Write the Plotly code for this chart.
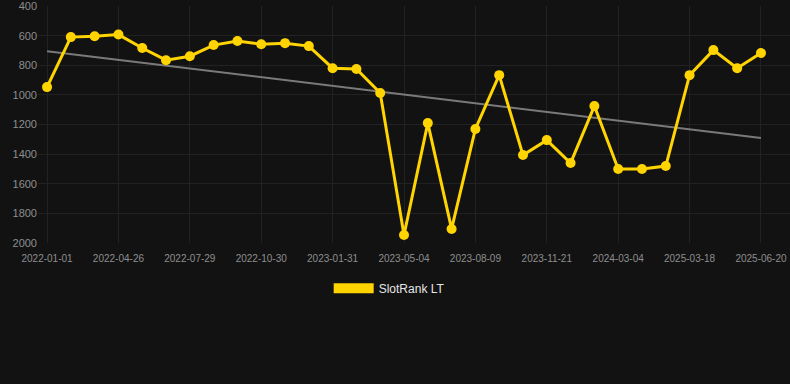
import plotly.graph_objects as go

dates = [
    "2022-01-01", "2022-02-08", "2022-03-18", "2022-04-26", "2022-05-27",
    "2022-06-28", "2022-07-29", "2022-08-29", "2022-09-29", "2022-10-30",
    "2022-11-30", "2022-12-31", "2023-01-31", "2023-03-03", "2023-04-03",
    "2023-05-04", "2023-06-05", "2023-07-07", "2023-08-09", "2023-09-11",
    "2023-10-16", "2023-11-21", "2023-12-26", "2024-01-30", "2024-03-04",
    "2024-07-15", "2024-11-12", "2025-03-18", "2025-04-18", "2025-05-19",
    "2025-06-20",
]
rank = [
    947, 609, 603, 592, 683, 765, 738, 663, 636, 657,
    650, 670, 819, 825, 987, 1946, 1190, 1905, 1230, 866,
    1406, 1305, 1460, 1075, 1500, 1500, 1480, 866, 697, 819,
    717,
]
trend_x = [dates[0], dates[-1]]
trend_y = [704, 1291]
tick_labels = dates[::3]
y_ticks = [400, 600, 800, 1000, 1200, 1400, 1600, 1800, 2000]

YELLOW = "#FFD400"
BG = "#121212"
GRID = "#222222"
TEXT = "#8e8e8e"

fig = go.Figure()
fig.add_trace(go.Scatter(
    x=trend_x, y=trend_y, mode="lines",
    line=dict(color="#7a7a7a", width=2), showlegend=False, hoverinfo="skip",
))
fig.add_trace(go.Scatter(
    x=dates, y=rank, mode="lines+markers",
    line=dict(color=YELLOW, width=3), marker=dict(color=YELLOW, size=10),
    showlegend=False, name="SlotRank LT",
))
fig.add_trace(go.Scatter(
    x=[None], y=[None], mode="lines",
    line=dict(color=YELLOW, width=12), name="SlotRank LT",
))

fig.update_layout(
    width=790, height=384,
    paper_bgcolor=BG, plot_bgcolor=BG,
    margin=dict(l=38, r=0, t=6, b=141),
    font=dict(family="Arial, Liberation Sans, sans-serif", color=TEXT),
    legend=dict(orientation="h", x=0.467, xanchor="center", y=-0.13, yanchor="top",
                font=dict(color="#e6e6e6", size=12), itemwidth=40),
    xaxis=dict(
        type="category", categoryorder="array", categoryarray=dates,
        range=[-0.38, 31.22],
        tickvals=tick_labels, ticktext=tick_labels,
        showgrid=True, gridcolor=GRID, zeroline=False, showline=False,
        tickfont=dict(size=10, color=TEXT), ticks="", ticklabelstandoff=8,
    ),
    yaxis=dict(
        range=[2000, 399], tickvals=y_ticks,
        showgrid=True, gridcolor=GRID, zeroline=False, showline=False,
        tickfont=dict(size=11, color=TEXT), ticks="",
    ),
)

fig.write_html("out.html", config={"displayModeBar": False},
               post_script="document.body.style.margin='0';")
